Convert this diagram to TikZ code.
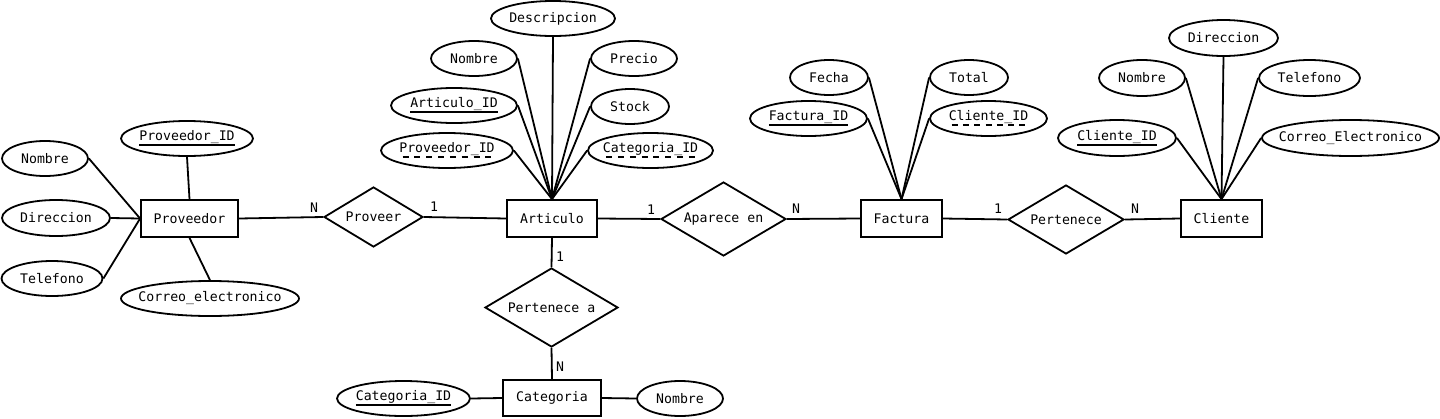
\documentclass[tikz,border=0pt]{standalone}
\usepackage{fontspec}
\setmonofont{DejaVu Sans Mono}
\usetikzlibrary{shapes.geometric}
\newcommand{\zw}[1]{\makebox[0pt][c]{#1}}
\newcommand{\ulx}[1]{\setbox0\hbox{#1}\rlap{\vrule height -3.5pt depth 5.5pt width \wd0}\box0}
\newcommand{\dulx}[1]{\setbox0\hbox{#1}\rlap{\hbox to \wd0{\xleaders\hbox to 11pt{\hss\vrule height -3.5pt depth 5.5pt width 6pt\hss}\hfil}}\box0}
\begin{document}
\begin{tikzpicture}[x=1pt,y=-1pt,
  every node/.style={font=\ttfamily\fontsize{13.2}{16}\selectfont, inner sep=0pt},
  ent/.style={draw, rectangle, line width=1.8pt, minimum height=37pt},
  attr/.style={draw, ellipse, line width=1.8pt, minimum height=35pt},
  rel/.style={draw, diamond, aspect=1.7, line width=1.8pt},
  card/.style={font=\ttfamily\fontsize{13.2}{15}\selectfont},
  conn/.style={line width=1.8pt}]
\useasboundingbox (0,0) rectangle (1440,418);
% Entities
\node[ent, minimum width=97pt] (prov) at (189.5,218.5) {\zw{Proveedor}};
\node[ent, minimum width=90pt] (art) at (552,218.5) {\zw{Articulo}};
\node[ent, minimum width=81pt] (fac) at (901.5,218.5) {\zw{Factura}};
\node[ent, minimum width=81pt] (cli) at (1221.5,218.5) {\zw{Cliente}};
\node[ent, minimum width=98pt, minimum height=36pt] (cat) at (552,398) {\zw{Categoria}};
% Relationships
\node[rel, minimum width=99pt, minimum height=60pt] (r1) at (373.5,217) {\zw{Proveer}};
\node[rel, minimum width=125pt, minimum height=74pt] (r2) at (723.5,219) {\zw{Aparece en}};
\node[rel, minimum width=116pt, minimum height=69pt] (r3) at (1066,219.5) {\zw{Pertenece}};
\node[rel, minimum width=133pt, minimum height=79pt] (r4) at (551.5,307.5) {\zw{Pertenece a}};
% Proveedor attributes
\node[attr, minimum width=132pt] (pid) at (187,138.5) {\zw{\ulx{Proveedor\_ID}}};
\node[attr, minimum width=86pt] (pnom) at (45,158.5) {\zw{Nombre}};
\node[attr, minimum width=108pt, minimum height=36pt] (pdir) at (56,218) {\zw{Direccion}};
\node[attr, minimum width=101pt] (ptel) at (52,278.5) {\zw{Telefono}};
\node[attr, minimum width=178pt] (pcor) at (210,298.5) {\zw{Correo\_electronico}};
% Articulo attributes
\node[attr, minimum width=124pt] (ades) at (553,18.5) {\zw{Descripcion}};
\node[attr, minimum width=86pt] (anom) at (474,58.5) {\zw{Nombre}};
\node[attr, minimum width=86pt] (apre) at (634,58.5) {\zw{Precio}};
\node[attr, minimum width=126pt] (aid) at (454,105.5) {\zw{\ulx{Articulo\_ID}}};
\node[attr, minimum width=78pt] (asto) at (630,106.5) {\zw{Stock}};
\node[attr, minimum width=132pt] (apid) at (447,150.5) {\zw{\dulx{Proveedor\_ID}}};
\node[attr, minimum width=125pt] (acid) at (650.5,150.5) {\zw{\dulx{Categoria\_ID}}};
% Factura attributes
\node[attr, minimum width=78pt] (ffec) at (829,77.5) {\zw{Fecha}};
\node[attr, minimum width=78pt] (ftot) at (969,77.5) {\zw{Total}};
\node[attr, minimum width=117pt] (fid) at (808.5,118.5) {\zw{\ulx{Factura\_ID}}};
\node[attr, minimum width=117pt] (fcid) at (988.5,118.5) {\zw{\dulx{Cliente\_ID}}};
% Cliente attributes
\node[attr, minimum width=109pt, minimum height=36pt] (cdir) at (1223.5,38) {\zw{Direccion}};
\node[attr, minimum width=86pt, minimum height=36pt] (cnom) at (1142,78) {\zw{Nombre}};
\node[attr, minimum width=101pt, minimum height=36pt] (ctel) at (1309.5,78) {\zw{Telefono}};
\node[attr, minimum width=118pt, minimum height=36pt] (cid) at (1117,138) {\zw{\ulx{Cliente\_ID}}};
\node[attr, minimum width=177pt, minimum height=36pt] (ccor) at (1350.5,138) {\zw{Correo\_Electronico}};
% Categoria attributes
\node[attr, minimum width=133pt] (kid) at (403.5,398.5) {\zw{\ulx{Categoria\_ID}}};
\node[attr, minimum width=86pt] (knom) at (680,398.5) {\zw{Nombre}};
% Attribute connectors
\draw[conn] (pid.south) -- (prov.north);
\draw[conn] (pnom.east) -- (prov.west);
\draw[conn] (pdir.east) -- (prov.west);
\draw[conn] (ptel.east) -- (prov.west);
\draw[conn] (pcor.north) -- (prov.south);
\draw[conn] (ades.south) -- (art.north);
\draw[conn] (anom.east) -- (art.north);
\draw[conn] (apre.west) -- (art.north);
\draw[conn] (aid.east) -- (art.north);
\draw[conn] (asto.west) -- (art.north);
\draw[conn] (apid.east) -- (art.north);
\draw[conn] (acid.west) -- (art.north);
\draw[conn] (ffec.east) -- (fac.north);
\draw[conn] (ftot.west) -- (fac.north);
\draw[conn] (fid.east) -- (fac.north);
\draw[conn] (fcid.west) -- (fac.north);
\draw[conn] (cdir.south) -- (cli.north);
\draw[conn] (cnom.east) -- (cli.north);
\draw[conn] (ctel.west) -- (cli.north);
\draw[conn] (cid.east) -- (cli.north);
\draw[conn] (ccor.west) -- (cli.north);
\draw[conn] (kid.east) -- (cat.west);
\draw[conn] (knom.west) -- (cat.east);
% Relationship connectors
\draw[conn] (prov.east) -- (r1.west);
\draw[conn] (r1.east) -- (art.west);
\draw[conn] (art.east) -- (r2.west);
\draw[conn] (r2.east) -- (fac.west);
\draw[conn] (fac.east) -- (r3.west);
\draw[conn] (r3.east) -- (cli.west);
\draw[conn] (art.south) -- (r4.north);
\draw[conn] (r4.south) -- (cat.north);
% Cardinalities
\node[card] (c1) at (314,207.5) {N};
\node[card] (c2) at (434,206.5) {1};
\node[card] (c3) at (651,209.5) {1};
\node[card] (c4) at (796,209) {N};
\node[card] (c5) at (998,209) {1};
\node[card] (c6) at (1135,209) {N};
\node[card] (c7) at (560,257) {1};
\node[card] (c8) at (560,367) {N};
\end{tikzpicture}
\end{document}
